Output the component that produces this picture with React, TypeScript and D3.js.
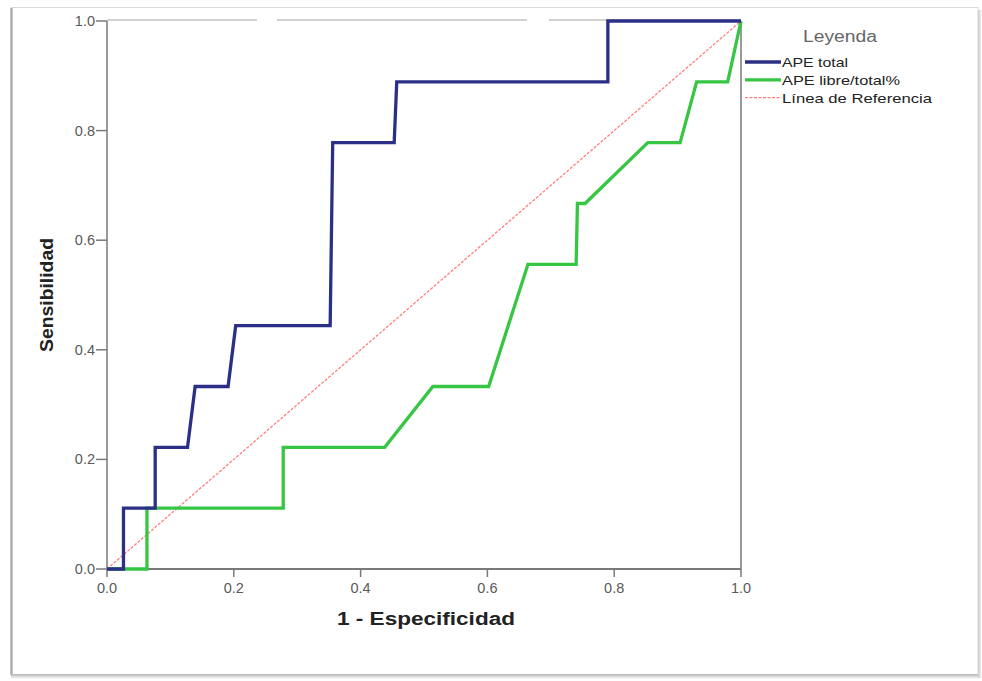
import React from "react";
import * as d3 from "d3";

const xTicks = [0, 0.2, 0.4, 0.6, 0.8, 1.0];
const yTicks = [0, 0.2, 0.4, 0.6, 0.8, 1.0];

// APE total ROC curve (1 - especificidad, sensibilidad)
const apeTotalX = [0, 0.026, 0.026, 0.076, 0.076, 0.127, 0.139, 0.191, 0.203, 0.352, 0.356, 0.453, 0.457, 0.79, 0.79, 1.0];
const apeTotalY = [0, 0, 0.111, 0.111, 0.222, 0.222, 0.333, 0.333, 0.444, 0.444, 0.778, 0.778, 0.889, 0.889, 1.0, 1.0];

// APE libre/total% ROC curve
const apeLibreX = [0, 0.063, 0.063, 0.278, 0.278, 0.438, 0.514, 0.602, 0.664, 0.74, 0.742, 0.754, 0.853, 0.904, 0.93, 0.979, 1.0];
const apeLibreY = [0, 0, 0.111, 0.111, 0.222, 0.222, 0.333, 0.333, 0.556, 0.556, 0.667, 0.667, 0.778, 0.778, 0.889, 0.889, 1.0];

const refX = [0, 1];
const refY = [0, 1];

const legendTitle = "Leyenda";
const legendLabels = ["APE total", "APE libre/total%", "Línea de Referencia"];
const xTitle = "1 - Especificidad";
const yTitle = "Sensibilidad";

const W = 982;
const H = 681;
const left = 107;
const right = 741;
const top = 21;
const bottom = 569;

const BLUE = "#2b2f86";
const GREEN = "#36c644";
const RED = "#ff7f7f";

export default function App() {
  const x = d3.scaleLinear().domain([0, 1]).range([left, right]);
  const y = d3.scaleLinear().domain([0, 1]).range([bottom, top]);
  const line = d3
    .line<[number, number]>()
    .x((d) => x(d[0]))
    .y((d) => y(d[1]));
  const toPts = (xs: number[], ys: number[]) => xs.map((v, i) => [v, ys[i]] as [number, number]);
  const fmt = d3.format(".1f");
  const font = "'Liberation Sans', Arial, sans-serif";
  const legendWidths = [66, 118, 150];
  const legendColors = [BLUE, GREEN, RED];

  return (
    <svg
      width={W}
      height={H}
      style={{ position: "absolute", left: 0, top: 0, background: "#fff" }}
      fontFamily={font}
    >
      <defs>
        <linearGradient id="shB" x1="0" y1="0" x2="0" y2="1">
          <stop offset="0" stopColor="#b5b5b5" />
          <stop offset="1" stopColor="#ffffff" />
        </linearGradient>
        <linearGradient id="shR" x1="0" y1="0" x2="1" y2="0">
          <stop offset="0" stopColor="#c8c8c8" />
          <stop offset="1" stopColor="#ffffff" />
        </linearGradient>
      </defs>
      {/* outer frame with shadow */}
      <rect x={11} y={7.5} width={967} height={667} fill="#fff" stroke="#dadada" strokeWidth={1} />
      <line x1={11.5} y1={8} x2={11.5} y2={675} stroke="#b0b0b0" strokeWidth={2.5} />
      <rect x={11} y={674} width={969} height={5} fill="url(#shB)" />
      <rect x={978} y={10} width={4} height={668} fill="url(#shR)" />

      {/* plot frame */}
      <line x1={left} y1={top - 1} x2={right} y2={top - 1} stroke="#c4c4c4" strokeWidth={1.5} strokeDasharray="150 20 250 22 300" />
      <line x1={right} y1={top} x2={right} y2={bottom} stroke="#9a9a9a" strokeWidth={2} />
      <line x1={left} y1={top} x2={left} y2={bottom} stroke="#9a9a9a" strokeWidth={2} />
      <line x1={left} y1={bottom} x2={right} y2={bottom} stroke="#7a7a7a" strokeWidth={2} />

      {/* ticks */}
      {xTicks.map((t) => (
        <g key={"x" + t}>
          <line x1={x(t)} x2={x(t)} y1={bottom} y2={bottom + 8} stroke="#7a7a7a" strokeWidth={1.5} />
          <text x={x(t)} y={bottom + 24} textAnchor="middle" fontSize={14.5} fill="#5a5a5a">
            {fmt(t)}
          </text>
        </g>
      ))}
      {yTicks.map((t) => (
        <g key={"y" + t}>
          <line x1={left - 11} x2={left} y1={y(t)} y2={y(t)} stroke="#7a7a7a" strokeWidth={1.5} />
          <text x={left - 12} y={y(t) + 5} textAnchor="end" fontSize={14.5} fill="#5a5a5a">
            {fmt(t)}
          </text>
        </g>
      ))}

      {/* axis titles */}
      <text
        x={337}
        y={625}
        fontSize={18}
        fontWeight="bold"
        fill="#222"
        textLength={178}
        lengthAdjust="spacingAndGlyphs"
      >
        {xTitle}
      </text>
      <text
        transform={`translate(53, 352) rotate(-90)`}
        fontSize={19}
        fontWeight="bold"
        fill="#222"
        textLength={114}
        lengthAdjust="spacingAndGlyphs"
      >
        {yTitle}
      </text>

      {/* reference line */}
      <path d={line(toPts(refX, refY)) || ""} fill="none" stroke={RED} strokeWidth={1.3} strokeDasharray="3 1.5" />
      {/* curves */}
      <path d={line(toPts(apeLibreX, apeLibreY)) || ""} fill="none" stroke={GREEN} strokeWidth={3.3} strokeLinejoin="miter" />
      <path d={line(toPts(apeTotalX, apeTotalY)) || ""} fill="none" stroke={BLUE} strokeWidth={3.3} strokeLinejoin="miter" />

      {/* legend */}
      <text x={803} y={42} fontSize={16} fill="#666" textLength={74} lengthAdjust="spacingAndGlyphs">
        {legendTitle}
      </text>
      {legendLabels.map((l, i) => (
        <g key={l}>
          <line
            x1={745}
            x2={781}
            y1={62 + i * 17.8}
            y2={62 + i * 17.8}
            stroke={legendColors[i]}
            strokeWidth={i === 2 ? 1.3 : 3.3}
            strokeDasharray={i === 2 ? "3 1.5" : undefined}
          />
          <text
            x={782}
            y={67 + i * 18}
            fontSize={13.5}
            fill="#222"
            textLength={legendWidths[i]}
            lengthAdjust="spacingAndGlyphs"
          >
            {l}
          </text>
        </g>
      ))}
    </svg>
  );
}
